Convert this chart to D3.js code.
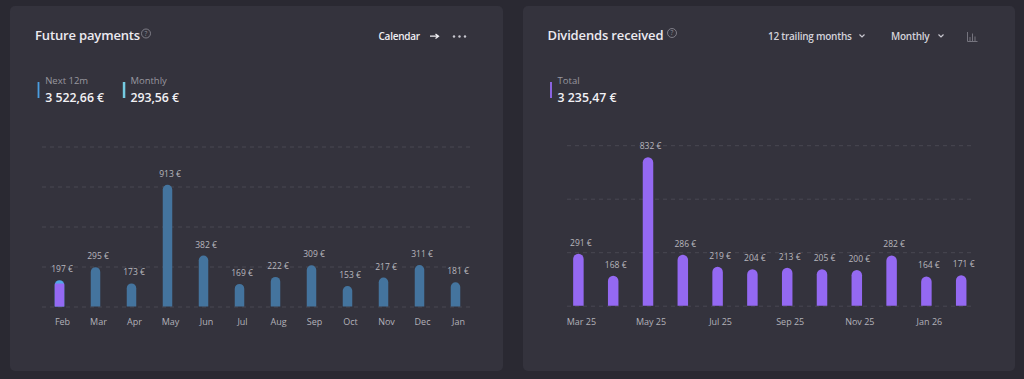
<!DOCTYPE html>
<html lang="en">
<head>
<meta charset="UTF-8">
<title>Future payments / Dividends received</title>
<script src="https://d3js.org/d3.v7.min.js"></script>
<style>
    html, body { margin: 0; padding: 0; background: #2a2932; overflow: hidden; }
    svg { display: block; }
    text { font-family: "Open Sans", "Noto Sans", sans-serif; }
    .title { font-size: 13px; font-weight: 600; fill: #eceaf0; letter-spacing: -0.15px; }
    .ctrl { font-size: 10px; font-weight: 600; fill: #d3d2da; letter-spacing: -0.25px; }
    .ctrl.white { fill: #f0eff3; }
    .kpi-label { font-size: 9.5px; fill: #98979f; }
    .kpi-value { font-size: 12.3px; font-weight: 600; fill: #f2f1f5; }
    .val { font-size: 8.5px; fill: #b8b7be; text-anchor: middle; }
    .axis text { font-size: 9px; fill: #b2b1b9; }
    .axis path, .axis line { display: none; }
    .grid path { display: none; }
    .grid line { stroke: #494852; stroke-dasharray: 4 4; }
</style>
</head>
<body>
<svg width="1024" height="379"></svg>
<script>
const futureMonths = ["Feb", "Mar", "Apr", "May", "Jun", "Jul", "Aug", "Sep", "Oct", "Nov", "Dec", "Jan"];
const futureTotals = [197, 295, 173, 913, 382, 169, 222, 309, 153, 217, 311, 181];
const futureReceived = [172, 0, 0, 0, 0, 0, 0, 0, 0, 0, 0, 0];
const futureGrid = [0, 300, 600, 900, 1200];

const dividendMonths = ["Mar 25", "Apr 25", "May 25", "Jun 25", "Jul 25", "Aug 25", "Sep 25", "Oct 25", "Nov 25", "Dec 25", "Jan 26", "Feb 26"];
const dividendTotals = [291, 168, 832, 286, 219, 204, 213, 205, 200, 282, 164, 171];
const dividendTicks = ["Mar 25", "May 25", "Jul 25", "Sep 25", "Nov 25", "Jan 26"];
const dividendGrid = [0, 300, 600, 900];

const svg = d3.select("svg");

// cards
svg.append("rect").attr("x", 10).attr("y", 6).attr("width", 493).attr("height", 365).attr("rx", 5).attr("fill", "#34333d");
svg.append("rect").attr("x", 523).attr("y", 6).attr("width", 492).attr("height", 365).attr("rx", 5).attr("fill", "#34333d");

// bar with rounded top
function barPath(x, w, yTop, yBase) {
    const r = Math.min(w / 2, yBase - yTop);
    return `M${x},${yBase}V${yTop + r}A${r},${r} 0 0 1 ${x + w},${yTop + r}V${yBase}Z`;
}

function drawChart(o) {
    const g = svg.append("g");
    const y = d3.scaleLinear().domain(o.yDomain).range(o.yRange);
    const x = d3.scaleBand().domain(o.cats).range(o.xRange);
    const cx = d => x(d) + x.bandwidth() / 2;

    g.append("g").attr("class", "grid")
        .attr("transform", `translate(${o.gridX[0]},0)`)
        .call(d3.axisLeft(y).tickValues(o.grid).tickFormat("").tickSize(-(o.gridX[1] - o.gridX[0])));

    g.selectAll(".bar").data(o.cats).enter().append("path")
        .attr("class", "bar")
        .attr("fill", (d, i) => o.color(i))
        .attr("d", (d, i) => barPath(cx(d) - o.barW / 2, o.barW, y(o.values[i]), y(0)));

    // received part of a month sits under the rounded cap, flat top
    if (o.received) {
        g.selectAll(".paid").data(o.cats.filter((d, i) => o.received[i] > 0)).enter().append("rect")
            .attr("fill", "#9469f2")
            .attr("x", d => cx(d) - o.barW / 2)
            .attr("width", o.barW)
            .attr("y", d => y(o.received[o.cats.indexOf(d)]))
            .attr("height", d => y(0) - y(o.received[o.cats.indexOf(d)]));
    }

    g.selectAll(".val").data(o.cats).enter().append("text")
        .attr("class", "val")
        .attr("x", d => cx(d) + 2.5)
        .attr("y", (d, i) => y(o.values[i]) - 8)
        .text((d, i) => o.values[i] + " €");

    const axis = g.append("g").attr("class", "axis")
        .attr("transform", `translate(3,${o.axisY})`)
        .call(d3.axisBottom(x).tickValues(o.ticks).tickSize(0));
    axis.select(".domain").remove();
}

drawChart({
    cats: futureMonths, values: futureTotals, received: futureReceived, grid: futureGrid,
    ticks: futureMonths,
    yDomain: [0, 1200], yRange: [306.5, 146.5],
    xRange: [41.5, 473.5], gridX: [42, 474], barW: 9.5, axisY: 315.5,
    color: i => i === 0 ? "#52a6e6" : "#44749e"
});

drawChart({
    cats: dividendMonths, values: dividendTotals, grid: dividendGrid,
    ticks: dividendTicks,
    yDomain: [0, 900], yRange: [305.7, 145.2],
    xRange: [561, 978.6], gridX: [567, 973], barW: 10.5, axisY: 315.5,
    color: () => "#9469f2"
});

// headers
function helpIcon(cx, cy) {
    svg.append("circle").attr("cx", cx).attr("cy", cy).attr("r", 4.5)
        .attr("fill", "none").attr("stroke", "#8f8e98").attr("stroke-width", 0.8);
    svg.append("text").attr("x", cx).attr("y", cy + 2.4).attr("text-anchor", "middle")
        .attr("font-size", 6.5).attr("fill", "#8f8e98").text("?");
}
function chevron(cx, cy) {
    svg.append("path").attr("d", `M${cx - 2.5},${cy - 1.5}L${cx},${cy + 1}L${cx + 2.5},${cy - 1.5}`)
        .attr("fill", "none").attr("stroke", "#c8c7cf").attr("stroke-width", 1.2);
}
function kpi(x, w, color, label, value) {
    svg.append("rect").attr("x", x).attr("y", 82).attr("width", w).attr("height", 16).attr("fill", color);
    svg.append("text").attr("class", "kpi-label").attr("x", x + 7.6).attr("y", 84).text(label);
    svg.append("text").attr("class", "kpi-value").attr("x", x + 7.6).attr("y", 102.3).text(value);
}

svg.append("text").attr("class", "title").attr("x", 35).attr("y", 40).text("Future payments");
helpIcon(146, 33.5);
svg.append("text").attr("class", "ctrl white").attr("x", 378.5).attr("y", 40).text("Calendar");
svg.append("path").attr("d", "M430,36.2H438M435.5,34L438.5,36.2L435.5,38.4").attr("fill", "none").attr("stroke", "#f0eff3").attr("stroke-width", 1.3);
[454, 459.5, 465].forEach(cx => svg.append("circle").attr("cx", cx).attr("cy", 36.5).attr("r", 1.2).attr("fill", "#c8c7cf"));
kpi(37.6, 1.8, "#4a9de0", "Next 12m", "3 522,66 €");
kpi(122.8, 2.5, "#74cbe2", "Monthly", "293,56 €");

svg.append("text").attr("class", "title").attr("x", 547.5).attr("y", 40).text("Dividends received");
helpIcon(672, 33);
svg.append("text").attr("class", "ctrl").attr("x", 768).attr("y", 40).text("12 trailing months");
chevron(862, 36);
svg.append("text").attr("class", "ctrl").attr("x", 891).attr("y", 40).text("Monthly");
chevron(941, 36);
svg.append("path").attr("d", "M967.5,32V41.5H977.5M970,41V37M972.5,41V33.5M975,41V36.5").attr("fill", "none").attr("stroke", "#75747e").attr("stroke-width", 1);
kpi(550, 2, "#8a63e0", "Total", "3 235,47 €");
</script>
</body>
</html>
